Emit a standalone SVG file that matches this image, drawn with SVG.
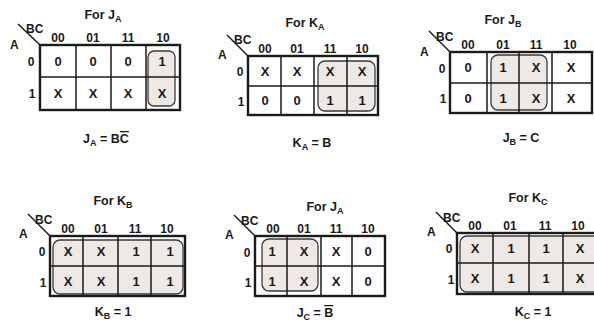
<svg xmlns="http://www.w3.org/2000/svg" width="594" height="325" viewBox="0 0 594 325">
<style>
text{font-family:"Liberation Sans",Arial,sans-serif;font-weight:bold;fill:#1a1a1a}
.t{font-size:12.5px;text-anchor:middle}
.c{font-size:12px;text-anchor:middle}
.v{font-size:13px;text-anchor:middle}
.l{font-size:12px}
.s{font-size:9px}
.o{fill:none;stroke:#1a1a1a;stroke-width:2.4}
.i{stroke:#1a1a1a;stroke-width:1.5}
.d{stroke:#1a1a1a;stroke-width:1.5}
.loop{fill:#e2dbd3;fill-opacity:.6;stroke:#3a3a3a;stroke-width:1.3}
</style>
<rect width="594" height="325" fill="#ffffff"/>

<g id="map-JA">
<text class="t" x="103" y="19">For J<tspan class="s" dy="3">A</tspan></text>
<line class="d" x1="18" y1="24" x2="40" y2="45"/>
<text class="l" x="26" y="33">BC</text>
<text class="l" x="10" y="49">A</text>
<text class="c" x="58" y="42">00</text><text class="c" x="93" y="42">01</text><text class="c" x="128" y="42">11</text><text class="c" x="163" y="42">10</text>
<text class="c" x="31" y="66">0</text><text class="c" x="32" y="98">1</text>
<rect class="loop" x="148" y="51" width="27" height="55" rx="6"/>
<rect class="o" x="40" y="45" width="140" height="65"/>
<path class="i" d="M76 45V110M111 45V110M146 45V110M40 77H180"/>
<text class="v" x="58" y="66">0</text><text class="v" x="93" y="66">0</text><text class="v" x="128" y="66">0</text><text class="v" x="162" y="66">1</text>
<text class="v" x="58" y="98">X</text><text class="v" x="93" y="98">X</text><text class="v" x="128" y="98">X</text><text class="v" x="162" y="98">X</text>
<text class="t" x="106" y="143">J<tspan class="s" dy="3">A</tspan><tspan dy="-3"> = B</tspan><tspan text-decoration="overline">C</tspan></text>
</g>

<g id="map-KA">
<text class="t" x="305" y="27">For K<tspan class="s" dy="3">A</tspan></text>
<line class="d" x1="227" y1="35" x2="248" y2="56"/>
<text class="l" x="234" y="44">BC</text>
<text class="l" x="218" y="59">A</text>
<text class="c" x="265" y="53">00</text><text class="c" x="297" y="53">01</text><text class="c" x="330" y="53">11</text><text class="c" x="362" y="53">10</text>
<text class="c" x="240" y="76">0</text><text class="c" x="241" y="106">1</text>
<rect class="loop" x="318" y="61" width="57" height="50" rx="7"/>
<rect class="o" x="248" y="56" width="130" height="59"/>
<path class="i" d="M281 56V115M314 56V115M347 56V115M248 86H378"/>
<text class="v" x="265" y="76">X</text><text class="v" x="297" y="76">X</text><text class="v" x="330" y="76">X</text><text class="v" x="362" y="76">X</text>
<text class="v" x="265" y="105">0</text><text class="v" x="297" y="105">0</text><text class="v" x="330" y="105">1</text><text class="v" x="362" y="105">1</text>
<text class="t" x="312" y="147">K<tspan class="s" dy="3">A</tspan><tspan dy="-3"> = B</tspan></text>
</g>

<g id="map-JB">
<text class="t" x="503" y="24">For J<tspan class="s" dy="3">B</tspan></text>
<line class="d" x1="429" y1="31" x2="450" y2="52"/>
<text class="l" x="436" y="41">BC</text>
<text class="l" x="420" y="56">A</text>
<text class="c" x="468" y="49">00</text><text class="c" x="503" y="49">01</text><text class="c" x="536" y="49">11</text><text class="c" x="570" y="49">10</text>
<text class="c" x="442" y="73">0</text><text class="c" x="443" y="103">1</text>
<rect class="loop" x="491" y="55" width="56" height="55" rx="7"/>
<rect class="o" x="450" y="52" width="142" height="61"/>
<path class="i" d="M487 52V113M519 52V113M552 52V113M450 83H592"/>
<text class="v" x="468" y="72">0</text><text class="v" x="503" y="72">1</text><text class="v" x="536" y="72">X</text><text class="v" x="571" y="72">X</text>
<text class="v" x="468" y="103">0</text><text class="v" x="503" y="103">1</text><text class="v" x="536" y="103">X</text><text class="v" x="571" y="103">X</text>
<text class="t" x="521" y="142">J<tspan class="s" dy="3">B</tspan><tspan dy="-3"> = C</tspan></text>
</g>

<g id="map-KB">
<text class="t" x="113" y="205">For K<tspan class="s" dy="3">B</tspan></text>
<line class="d" x1="28" y1="214" x2="50" y2="236"/>
<text class="l" x="35" y="224">BC</text>
<text class="l" x="19" y="238">A</text>
<text class="c" x="68" y="233">00</text><text class="c" x="101" y="233">01</text><text class="c" x="135" y="233">11</text><text class="c" x="167" y="233">10</text>
<text class="c" x="42" y="256">0</text><text class="c" x="43" y="287">1</text>
<rect class="loop" x="53" y="240" width="130" height="54" rx="7"/>
<rect class="o" x="50" y="236" width="135" height="60"/>
<path class="i" d="M83 236V296M118 236V296M151 236V296M50 266H185"/>
<text class="v" x="68" y="256">X</text><text class="v" x="101" y="256">X</text><text class="v" x="136" y="256">1</text><text class="v" x="170" y="256">1</text>
<text class="v" x="68" y="286">X</text><text class="v" x="101" y="286">X</text><text class="v" x="136" y="286">1</text><text class="v" x="170" y="286">1</text>
<text class="t" x="113" y="316">K<tspan class="s" dy="3">B</tspan><tspan dy="-3"> = 1</tspan></text>
</g>

<g id="map-JC">
<text class="t" x="325" y="211">For J<tspan class="s" dy="3">A</tspan></text>
<line class="d" x1="234" y1="215" x2="255" y2="236"/>
<text class="l" x="241" y="225">BC</text>
<text class="l" x="225" y="239">A</text>
<text class="c" x="273" y="233">00</text><text class="c" x="304" y="233">01</text><text class="c" x="336" y="233">11</text><text class="c" x="368" y="233">10</text>
<text class="c" x="247" y="257">0</text><text class="c" x="248" y="287">1</text>
<rect class="loop" x="262" y="239" width="56" height="52" rx="7"/>
<rect class="o" x="255" y="236" width="130" height="60"/>
<path class="i" d="M287 236V296M321 236V296M352 236V296M255 266H385"/>
<text class="v" x="272" y="256">1</text><text class="v" x="304" y="256">X</text><text class="v" x="336" y="256">X</text><text class="v" x="368" y="256">0</text>
<text class="v" x="272" y="286">1</text><text class="v" x="304" y="286">X</text><text class="v" x="336" y="286">X</text><text class="v" x="368" y="286">0</text>
<text class="t" x="315" y="317">J<tspan class="s" dy="3">C</tspan><tspan dy="-3"> = </tspan><tspan text-decoration="overline">B</tspan></text>
</g>

<g id="map-KC">
<text class="t" x="528" y="202">For K<tspan class="s" dy="3">C</tspan></text>
<line class="d" x1="436" y1="212" x2="457" y2="233"/>
<text class="l" x="443" y="222">BC</text>
<text class="l" x="427" y="236">A</text>
<text class="c" x="475" y="230">00</text><text class="c" x="510" y="230">01</text><text class="c" x="545" y="230">11</text><text class="c" x="578" y="230">10</text>
<text class="c" x="449" y="253">0</text><text class="c" x="451" y="284">1</text>
<rect class="loop" x="460" y="236" width="146" height="56" rx="7"/>
<rect class="o" x="457" y="233" width="145" height="61"/>
<path class="i" d="M493 233V294M529 233V294M563 233V294M457 263H602"/>
<text class="v" x="475" y="253">X</text><text class="v" x="511" y="253">1</text><text class="v" x="546" y="253">1</text><text class="v" x="580" y="253">X</text>
<text class="v" x="475" y="283">X</text><text class="v" x="511" y="283">1</text><text class="v" x="546" y="283">1</text><text class="v" x="580" y="283">X</text>
<text class="t" x="533" y="316">K<tspan class="s" dy="3">C</tspan><tspan dy="-3"> = 1</tspan></text>
</g>
</svg>
